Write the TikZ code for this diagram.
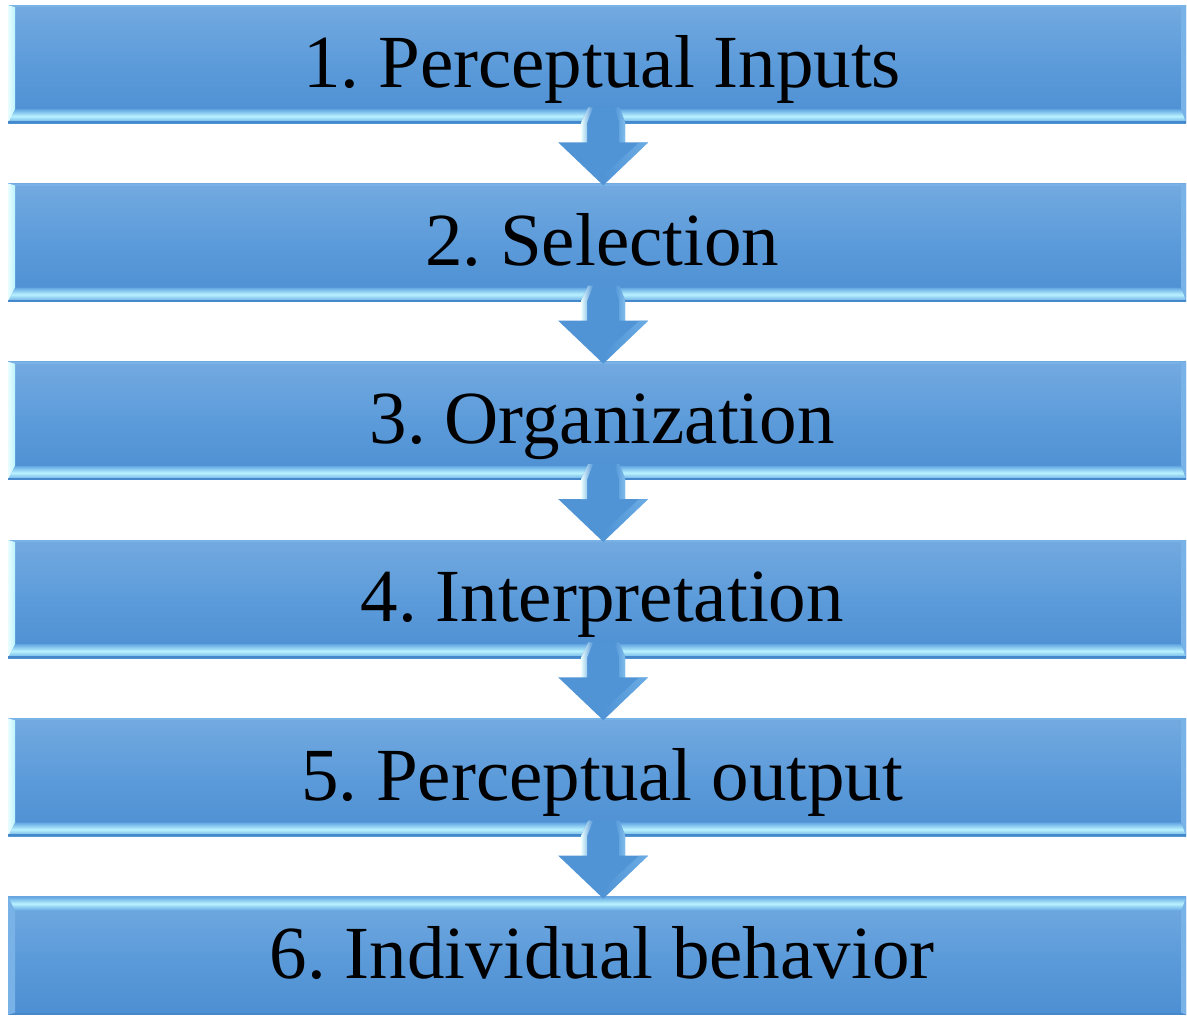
\documentclass[tikz,border=0pt]{standalone}
\usepackage{fontspec}
\setmainfont{Liberation Serif}
\usetikzlibrary{calc}
\frenchspacing

\definecolor{boxtop}{RGB}{115,170,224}
\definecolor{boxmid}{RGB}{92,155,218}
\definecolor{boxbot}{RGB}{76,143,210}
\definecolor{rimlight}{RGB}{185,242,255}
\definecolor{rimwhite}{RGB}{232,253,255}
\definecolor{rimblue}{RGB}{98,166,226}
\definecolor{rimedge}{RGB}{120,178,230}
\definecolor{rimdark}{RGB}{70,136,204}
\definecolor{arrowfill}{RGB}{80,148,214}
\definecolor{arrowlight}{RGB}{128,190,238}

\tikzset{
  % flat face of every step bar
  stagebar/.style={
    rectangle, inner sep=0pt, minimum width=1178pt, minimum height=118pt,
    anchor=north west, top color=boxtop, bottom color=boxbot, middle color=boxmid
  },
  % bars 1-5: light rim along the bottom and left edges
  bevelbottom/.style={stagebar, path picture={
    \fill[rimedge] (path picture bounding box.north west) rectangle
      ([yshift=-2pt]path picture bounding box.north east);
    \fill[rimedge] (path picture bounding box.north east) --
      (path picture bounding box.south east) --
      ([xshift=-5pt,yshift=14pt]path picture bounding box.south east) --
      ([xshift=-5pt,yshift=-2pt]path picture bounding box.north east) -- cycle;
    \shade[left color=rimwhite, right color=rimlight]
      (path picture bounding box.north west) --
      (path picture bounding box.south west) --
      ([xshift=7pt,yshift=14pt]path picture bounding box.south west) --
      ([xshift=7pt,yshift=-2pt]path picture bounding box.north west) -- cycle;
    \shade[top color=rimblue, bottom color=rimblue, middle color=rimlight]
      (path picture bounding box.south west) --
      (path picture bounding box.south east) --
      ([xshift=-5pt,yshift=14pt]path picture bounding box.south east) --
      ([xshift=7pt,yshift=14pt]path picture bounding box.south west) -- cycle;
    \fill[rimdark] (path picture bounding box.south west) rectangle
      ([yshift=2pt]path picture bounding box.south east);
  }},
  % last bar: light rim along the top edge
  beveltop/.style={stagebar, path picture={
    \fill[rimdark] (path picture bounding box.south west) rectangle
      ([yshift=2pt]path picture bounding box.south east);
    \fill[rimedge] (path picture bounding box.north west) --
      (path picture bounding box.south west) --
      ([xshift=7pt,yshift=2pt]path picture bounding box.south west) --
      ([xshift=7pt,yshift=-14pt]path picture bounding box.north west) -- cycle;
    \fill[rimedge] (path picture bounding box.north east) --
      (path picture bounding box.south east) --
      ([xshift=-5pt,yshift=2pt]path picture bounding box.south east) --
      ([xshift=-5pt,yshift=-14pt]path picture bounding box.north east) -- cycle;
    \shade[top color=rimblue, bottom color=rimblue, middle color=rimlight]
      (path picture bounding box.north west) --
      (path picture bounding box.north east) --
      ([xshift=-5pt,yshift=-14pt]path picture bounding box.north east) --
      ([xshift=7pt,yshift=-14pt]path picture bounding box.north west) -- cycle;
  }},
  stagelabel/.style={anchor=base, inner sep=0pt, text=black,
    font=\fontsize{75}{80}\selectfont},
  arrowbody/.style={fill=arrowfill},
}

\begin{document}
\begin{tikzpicture}[x=1pt, y=-1pt]
\useasboundingbox (0,0) rectangle (1187,1021);

% the six step bars
\foreach \i in {1,...,5}{
  \pgfmathsetmacro\bartop{5+178.3*(\i-1)}
  \node[bevelbottom] (b\i) at (8,\bartop) {};
}
\node[beveltop] (b6) at (8,896.5) {};

% block arrows from each bar to the next
\foreach \i [evaluate=\i as \j using int(\i+1)] in {1,...,5}{
  \begin{scope}[shift={($(b\i.south)+(6,0)$)}]
    \fill[arrowbody] (-22,19) -- (-22,-1) -- (-15,-16) -- (16,-16) --
      (22,-1) -- (22,19) -- (45,19) -- ($(b\j.north)-(b\i.south)+(0,2)$) --
      (-45,19) -- cycle;
    % rim highlights on the shaft and head
    \shade[left color=rimwhite, right color=arrowfill]
      (-22,19) -- (-22,-1) -- (-15,-16) -- (-10,-16) -- (-16,-1) -- (-16,19) -- cycle;
    \shade[left color=arrowfill, right color=arrowlight]
      (22,19) -- (22,-1) -- (16,-16) -- (11,-16) -- (16,-1) -- (16,19) -- cycle;
    \shade[left color=arrowfill, right color=arrowlight, opacity=0.6]
      (0,62) -- (45,19) -- (36,19) -- (0,52) -- cycle;
  \end{scope}
}

% step labels
\foreach \i/\txt in {1/{1. Perceptual Inputs}, 2/{2. Selection},
    3/{3. Organization}, 4/{4. Interpretation},
    5/{5. Perceptual output}, 6/{6. Individual behavior}}{
  \node[stagelabel] (t\i) at ($(b\i.north)+(5,82)$) {\txt};
}
\end{tikzpicture}
\end{document}
